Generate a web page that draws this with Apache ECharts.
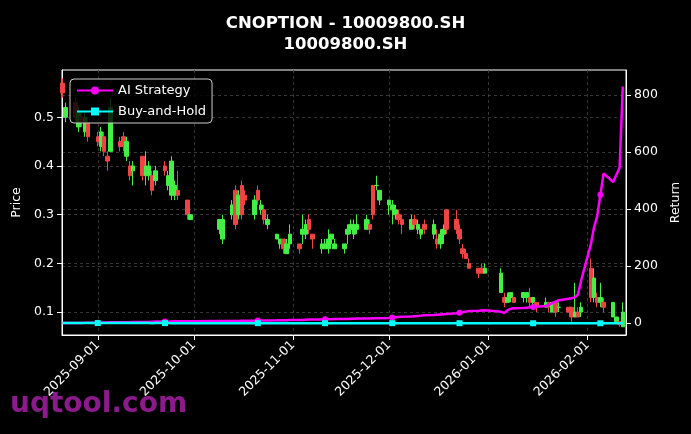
<!DOCTYPE html>
<html>
<head>
<meta charset="utf-8">
<script src="https://cdn.jsdelivr.net/npm/echarts@6/dist/echarts.min.js"></script>
<style>html,body{margin:0;background:#000}#main{width:691px;height:434px}</style>
</head>
<body>
<div id="main"></div>
<script>
var dates = [
  '2025-08-21','2025-08-22',
  '2025-08-25','2025-08-26','2025-08-27','2025-08-28','2025-08-29',
  '2025-09-01','2025-09-02','2025-09-03','2025-09-04','2025-09-05','2025-09-08','2025-09-09','2025-09-10','2025-09-11','2025-09-12',
  '2025-09-15','2025-09-16','2025-09-17','2025-09-18','2025-09-19','2025-09-22','2025-09-23','2025-09-24','2025-09-25','2025-09-26','2025-09-29','2025-09-30',
  '2025-10-09','2025-10-10','2025-10-13','2025-10-14','2025-10-15','2025-10-16','2025-10-17','2025-10-20','2025-10-21','2025-10-22','2025-10-23','2025-10-24',
  '2025-10-27','2025-10-28','2025-10-29','2025-10-30','2025-10-31',
  '2025-11-03','2025-11-04','2025-11-05','2025-11-06','2025-11-07','2025-11-10','2025-11-11','2025-11-12','2025-11-13','2025-11-14',
  '2025-11-17','2025-11-18','2025-11-19','2025-11-20','2025-11-21','2025-11-24','2025-11-25','2025-11-26','2025-11-27','2025-11-28',
  '2025-12-01','2025-12-02','2025-12-03','2025-12-04','2025-12-05','2025-12-08','2025-12-09','2025-12-10','2025-12-11','2025-12-12',
  '2025-12-15','2025-12-16','2025-12-17','2025-12-18','2025-12-19','2025-12-22','2025-12-23','2025-12-24','2025-12-25','2025-12-26',
  '2025-12-29','2025-12-30','2025-12-31',
  '2026-01-05','2026-01-06','2026-01-07','2026-01-08','2026-01-09','2026-01-12','2026-01-13','2026-01-14','2026-01-15','2026-01-16',
  '2026-01-19','2026-01-20','2026-01-21','2026-01-22','2026-01-23','2026-01-26','2026-01-27','2026-01-28','2026-01-29','2026-01-30',
  '2026-02-02','2026-02-03','2026-02-04','2026-02-05','2026-02-06','2026-02-09','2026-02-10','2026-02-11','2026-02-12'
];

// [open, close, low, high]
var ohlc = [
  [0.57,0.55,0.54,0.58],[0.50,0.52,0.49,0.53],
  [0.53,0.50,0.49,0.54],[0.48,0.51,0.47,0.52],[0.50,0.49,0.48,0.51],[0.47,0.50,0.46,0.51],[0.49,0.46,0.45,0.50],
  [0.46,0.45,0.44,0.47],[0.44,0.47,0.43,0.48],[0.46,0.43,0.42,0.47],[0.42,0.41,0.39,0.43],[0.43,0.52,0.43,0.54],
  [0.45,0.44,0.43,0.46],[0.46,0.44,0.43,0.47],[0.42,0.45,0.41,0.46],[0.40,0.38,0.37,0.41],[0.39,0.40,0.36,0.41],
  [0.42,0.38,0.37,0.42],[0.38,0.40,0.36,0.43],[0.38,0.40,0.37,0.41],[0.38,0.35,0.34,0.39],[0.37,0.39,0.36,0.40],
  [0.40,0.39,0.38,0.41],[0.36,0.38,0.35,0.39],[0.34,0.41,0.33,0.42],[0.34,0.36,0.33,0.37],[0.35,0.34,0.33,0.39],
  [0.33,0.30,0.29,0.33],[0.29,0.30,0.29,0.30],
  [0.27,0.29,0.26,0.29],[0.25,0.29,0.24,0.30],[0.30,0.32,0.29,0.33],[0.35,0.28,0.27,0.36],[0.30,0.34,0.29,0.35],
  [0.36,0.30,0.29,0.37],[0.34,0.33,0.32,0.35],[0.30,0.33,0.29,0.34],[0.35,0.33,0.32,0.36],[0.31,0.32,0.30,0.33],
  [0.31,0.29,0.28,0.32],[0.28,0.29,0.27,0.30],
  [0.25,0.26,0.25,0.26],[0.24,0.25,0.23,0.25],[0.25,0.23,0.22,0.25],[0.22,0.24,0.22,0.25],[0.24,0.26,0.23,0.28],
  [0.24,0.23,0.22,0.24],[0.26,0.27,0.24,0.30],[0.26,0.28,0.25,0.29],[0.29,0.27,0.26,0.30],[0.26,0.25,0.23,0.26],
  [0.23,0.24,0.22,0.25],[0.23,0.24,0.23,0.25],[0.23,0.25,0.22,0.27],[0.25,0.26,0.24,0.26],[0.23,0.24,0.23,0.25],
  [0.23,0.24,0.22,0.24],[0.26,0.27,0.24,0.28],[0.27,0.28,0.26,0.29],[0.26,0.28,0.25,0.29],[0.27,0.28,0.26,0.30],
  [0.27,0.29,0.27,0.30],[0.28,0.27,0.26,0.29],[0.36,0.30,0.29,0.36],[0.36,0.36,0.35,0.38],[0.33,0.35,0.32,0.35],
  [0.32,0.33,0.30,0.33],[0.31,0.32,0.28,0.33],[0.30,0.31,0.29,0.32],[0.30,0.29,0.28,0.31],[0.29,0.28,0.26,0.30],
  [0.27,0.29,0.27,0.30],[0.29,0.28,0.27,0.30],[0.27,0.28,0.26,0.29],[0.26,0.27,0.25,0.27],[0.28,0.27,0.26,0.29],
  [0.26,0.28,0.25,0.29],[0.25,0.24,0.23,0.27],[0.24,0.26,0.23,0.27],[0.26,0.27,0.24,0.28],[0.31,0.27,0.26,0.31],
  [0.29,0.27,0.26,0.31],[0.27,0.25,0.24,0.28],[0.23,0.22,0.21,0.24],[0.22,0.21,0.21,0.23],[0.20,0.19,0.19,0.21],
  [0.19,0.18,0.17,0.19],[0.19,0.18,0.18,0.20],[0.18,0.19,0.18,0.20],
  [0.14,0.18,0.14,0.19],[0.13,0.12,0.11,0.14],[0.12,0.13,0.12,0.14],[0.13,0.14,0.12,0.14],[0.13,0.12,0.12,0.13],
  [0.13,0.14,0.12,0.14],[0.13,0.14,0.12,0.14],[0.13,0.12,0.11,0.15],[0.12,0.13,0.11,0.13],[0.12,0.11,0.10,0.12],
  [0.11,0.12,0.11,0.13],[0.12,0.11,0.10,0.12],[0.10,0.12,0.10,0.12],[0.12,0.10,0.09,0.12],[0.11,0.11,0.10,0.12],
  [0.11,0.10,0.10,0.11],[0.11,0.09,0.08,0.11],[0.09,0.10,0.09,0.16],[0.10,0.09,0.09,0.11],[0.10,0.11,0.09,0.12],
  [0.19,0.13,0.12,0.21],[0.13,0.17,0.12,0.19],[0.13,0.12,0.11,0.14],[0.12,0.13,0.11,0.16],[0.12,0.11,0.10,0.13],
  [0.09,0.12,0.09,0.12],[0.08,0.09,0.08,0.09],[0.08,0.075,0.07,0.08],[0.07,0.10,0.07,0.12]
];

var aiReturn = [
  0,0,
  0,0,0.5,1,1,
  1,1.5,2,2,2.5,2.5,3,3,3,3.5,4,4,4,4.5,5,5,5,5.5,6,6,6,6.5,
  7,7,7,7.5,7.5,8,8,8,8.5,9,9,9,9.5,10,10,10,10.5,
  11,11,11.5,12,12,12.5,13,13,13.5,14,14,14.5,15,15,15.5,16,16,16.5,17,17,
  18,19,20,21,22,23,24,25,26,27,28,29,30,31,32,34,36,38,40,42,43,44,45,
  40,35,45,50,52,53,54,55,56,57,60,65,70,75,80,85,87,90,100,150,
  275,335,375,450,525,495,520,545,830
];

var bhReturn = [
  0,0,
  0,-0.1,-0.1,-0.1,-0.2,
  -0.2,-0.2,-0.2,-0.3,-0.1,-0.2,-0.2,-0.2,-0.3,-0.3,-0.3,-0.3,-0.3,-0.4,-0.3,-0.3,-0.3,-0.4,-0.4,-0.4,-0.5,-0.5,
  -0.5,-0.5,-0.4,-0.5,-0.4,-0.5,-0.4,-0.4,-0.4,-0.4,-0.5,-0.5,-0.5,-0.6,-0.6,-0.6,-0.5,
  -0.6,-0.5,-0.5,-0.5,-0.6,-0.6,-0.6,-0.6,-0.5,-0.6,-0.6,-0.5,-0.5,-0.5,-0.5,-0.5,-0.5,-0.5,-0.4,-0.4,
  -0.4,-0.4,-0.4,-0.5,-0.5,-0.5,-0.5,-0.5,-0.5,-0.5,-0.5,-0.6,-0.5,-0.5,-0.5,-0.5,-0.6,-0.6,-0.6,-0.7,-0.7,-0.7,-0.7,
  -0.7,-0.8,-0.8,-0.8,-0.8,-0.8,-0.8,-0.8,-0.8,-0.8,-0.8,-0.8,-0.8,-0.8,-0.8,-0.8,-0.8,-0.8,-0.8,-0.8,
  -0.8,-0.7,-0.8,-0.8,-0.8,-0.8,-0.8,-0.9,-0.8
];

var monthTicks = ['2025-09-01','2025-10-01','2025-11-01','2025-12-01','2026-01-01','2026-02-01'];
var priceTicks = [0.1, 0.2, 0.3, 0.4, 0.5];
var returnTicks = [0, 200, 400, 600, 800];

function ms(d) { return Date.UTC(+d.slice(0, 4), +d.slice(5, 7) - 1, +d.slice(8, 10)); }

var chart = echarts.init(document.getElementById('main'));
var font = 'DejaVu Sans';
var gridLine = { show: true, lineStyle: { color: '#444', type: [3, 3], width: 0.8 } };
var monthMs = monthTicks.map(ms);
var markSize = function (v, p) { return p.dataIndex % 15 === 7 ? 6 : 0; };

var option = {
  backgroundColor: '#000',
  animation: false,
  textStyle: { fontFamily: font },
  title: {
    text: 'CNOPTION - 10009800.SH\n10009800.SH',
    left: 'center', top: 8,
    textStyle: { color: '#fff', fontSize: 16.5, fontWeight: 'bold', lineHeight: 21, fontFamily: font }
  },
  legend: {
    left: 70, top: 79, orient: 'vertical', itemGap: 8,
    itemWidth: 36, itemHeight: 10,
    backgroundColor: 'rgba(0,0,0,0.8)', borderColor: '#ccc', borderWidth: 1, borderRadius: 4,
    padding: [5, 6],
    textStyle: { color: '#fff', fontSize: 13 },
    data: ['AI Strategy', 'Buy-and-Hold']
  },
  grid: { left: 62, right: 65, top: 70, bottom: 99, show: true, borderColor: '#fff', borderWidth: 1 },
  xAxis: {
    type: 'value',
    min: ms('2025-08-21') - 4 * 3600000,
    max: ms('2026-02-13'),
    axisLine: { onZero: false, lineStyle: { color: '#fff' } },
    axisTick: { show: true, customValues: monthMs, lineStyle: { color: '#fff' } },
    axisLabel: {
      customValues: monthMs, rotate: 45, color: '#fff', fontSize: 12.5, margin: 8,
      formatter: function (v) { return new Date(v).toISOString().slice(0, 10); }
    },
    splitLine: gridLine
  },
  yAxis: [
    {
      type: 'value', min: 0.053, max: 0.597, position: 'left',
      name: 'Price', nameLocation: 'middle', nameGap: 38,
      nameTextStyle: { color: '#fff', fontSize: 12.5 },
      axisLine: { show: true, lineStyle: { color: '#fff' } },
      axisTick: { show: true, customValues: priceTicks },
      axisLabel: { customValues: priceTicks, color: '#fff', fontSize: 12.5, formatter: function (v) { return v.toFixed(1); } },
      splitLine: gridLine
    },
    {
      type: 'value', min: -42, max: 888, position: 'right',
      name: 'Return', nameLocation: 'middle', nameGap: 40,
      nameTextStyle: { color: '#fff', fontSize: 12.5 },
      axisLine: { show: true, lineStyle: { color: '#fff' } },
      axisTick: { show: true, customValues: returnTicks },
      axisLabel: { customValues: returnTicks, color: '#fff', fontSize: 12.5 },
      splitLine: gridLine
    }
  ],
  graphic: [{
    type: 'text', left: 10, top: 391,
    style: { text: 'uqtool.com', fill: '#8b1a8b', font: 'bold 28px "DejaVu Sans"' }
  }],
  series: [
    {
      type: 'candlestick', name: 'Price', yAxisIndex: 0, barWidth: 4, clip: true,
      itemStyle: { color: '#44ee44', color0: '#ee4444', borderColor: '#44ee44', borderColor0: '#ee4444', borderWidth: 1 },
      data: dates.map(function (d, i) { return [ms(d)].concat(ohlc[i]); })
    },
    {
      type: 'line', name: 'AI Strategy', yAxisIndex: 1, showAllSymbol: true,
      symbol: 'circle', symbolSize: markSize,
      lineStyle: { color: '#ff00ff', width: 2.5 }, itemStyle: { color: '#ff00ff' },
      data: dates.map(function (d, i) { return [ms(d), aiReturn[i]]; })
    },
    {
      type: 'line', name: 'Buy-and-Hold', yAxisIndex: 1, showAllSymbol: true,
      symbol: 'rect', symbolSize: markSize,
      lineStyle: { color: '#00ffff', width: 2.5 }, itemStyle: { color: '#00ffff' },
      data: dates.map(function (d, i) { return [ms(d), bhReturn[i]]; })
    }
  ]
};
chart.setOption(option);
</script>
</body>
</html>
